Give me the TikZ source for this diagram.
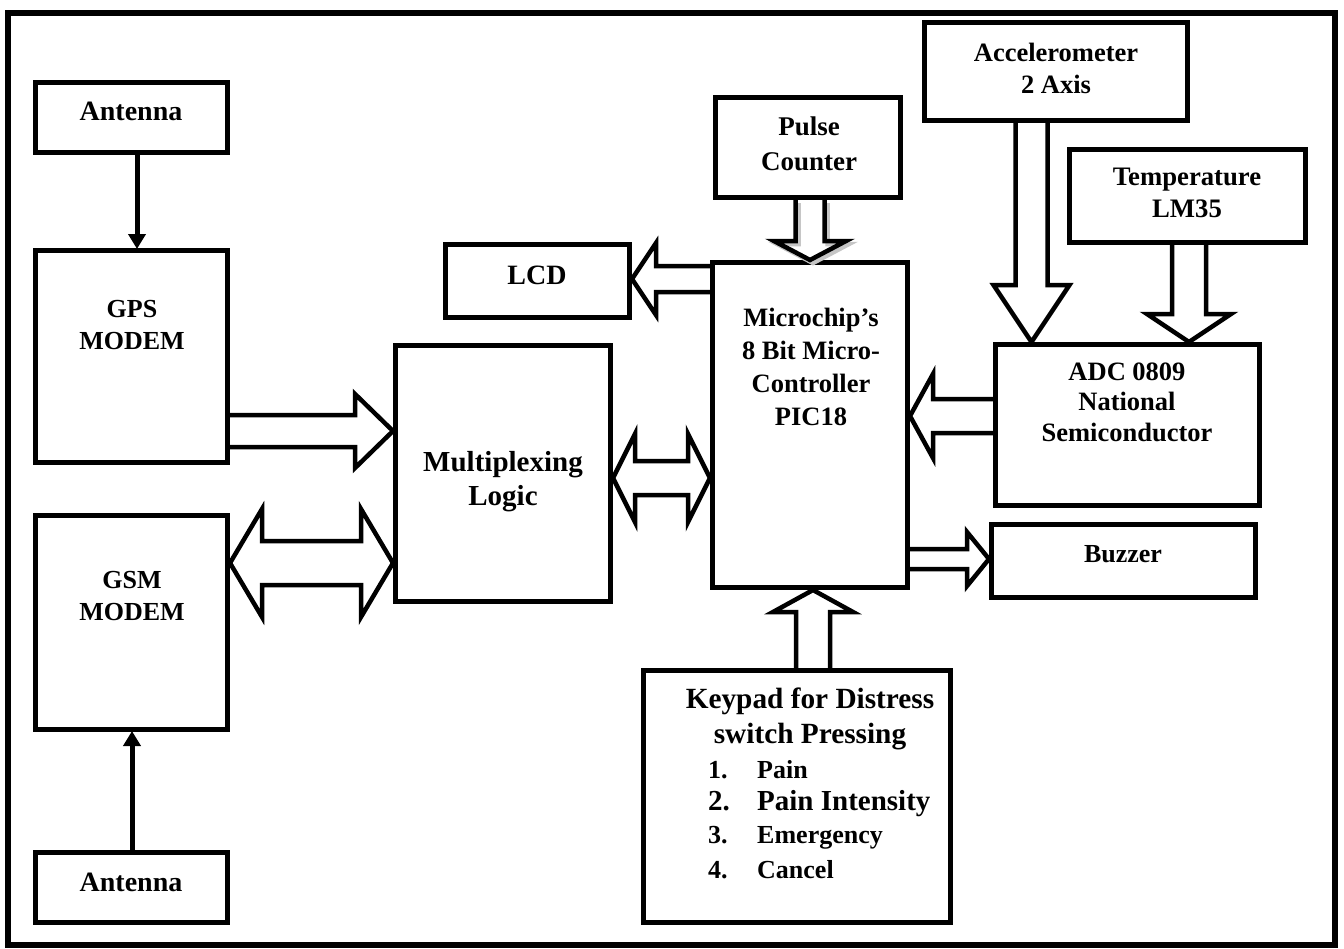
\documentclass[tikz,border=0pt]{standalone}
\usepackage{fontspec}
\setmainfont{Liberation Serif}
\usetikzlibrary{calc,arrows.meta}
% single block arrow: [opts]{start}{end}{shaft half}{head half}{head length}
\newcommand\sarrow[6][]{%
  \coordinate (bhB) at ($(#3)!#6!(#2)$);
  \draw[blk,#1] ($(#2)!#4!90:(#3)$) -- ($(bhB)!#4!-90:(#2)$) -- ($(bhB)!#5!-90:(#2)$)
    -- (#3) -- ($(bhB)!#5!90:(#2)$) -- ($(bhB)!#4!90:(#2)$) -- ($(#2)!#4!-90:(#3)$);
}
% double block arrow
\newcommand\darrow[6][]{%
  \coordinate (bhA) at ($(#2)!#6!(#3)$);
  \coordinate (bhB) at ($(#3)!#6!(#2)$);
  \draw[blk,#1] (#2) -- ($(bhA)!#5!90:(#3)$) -- ($(bhA)!#4!90:(#3)$)
    -- ($(bhB)!#4!-90:(#2)$) -- ($(bhB)!#5!-90:(#2)$) -- (#3)
    -- ($(bhB)!#5!90:(#2)$) -- ($(bhB)!#4!90:(#2)$)
    -- ($(bhA)!#4!-90:(#3)$) -- ($(bhA)!#5!-90:(#3)$) -- cycle;
}
\begin{document}
\begin{tikzpicture}[x=1pt,y=-1pt,
  box/.style 2 args={draw,line width=5pt,minimum width=#1,minimum height=#2,inner sep=0pt},
  txt/.style={font=\bfseries\fontsize{26}{32}\selectfont,align=center,inner sep=0pt},
  bigtxt/.style={font=\bfseries\fontsize{29}{34}\selectfont,align=center,inner sep=0pt},
  blk/.style={draw,line width=4.5pt,line join=miter},
  thinarrow/.style={line width=5pt,-{Triangle[length=15pt,width=17pt]},shorten >=-1pt}]
\useasboundingbox (0,0) rectangle (1344,948);
\draw[line width=5.5pt] (8,13) rectangle (1335,945);

% boxes
\node[box={192pt}{70pt}] (antT) at (131.5,117.5) {};
\node[box={192pt}{212pt}] (gps) at (131.5,356.5) {};
\node[box={192pt}{214pt}] (gsm) at (131.5,622.5) {};
\node[box={192pt}{70pt}] (antB) at (131.5,887.5) {};
\node[box={215pt}{256pt}] (mux) at (503,473.5) {};
\node[box={195pt}{325pt}] (mcu) at (810,425) {};
\node[box={184pt}{73pt}] (lcd) at (537.5,281) {};
\node[box={185pt}{100pt}] (pulse) at (808,147.5) {};
\node[box={263pt}{98pt}] (accel) at (1056,71) {};
\node[box={236pt}{93pt}] (temp) at (1187.5,196) {};
\node[box={264pt}{161pt}] (adc) at (1127.5,425) {};
\node[box={264pt}{73pt}] (buzzer) at (1123.5,561) {};
\node[box={307pt}{252pt}] (keypad) at (797,796.5) {};

% texts
\node[txt,font=\bfseries\fontsize{28}{33}\selectfont] (antTt) at (131,111) {Antenna};
\node[txt] (gpst) at (132,325) {GPS\\MODEM};
\node[txt] (gsmt) at (132,596) {GSM\\MODEM};
\node[txt,font=\bfseries\fontsize{28}{33}\selectfont] (antBt) at (131,882) {Antenna};
\node[bigtxt] (muxt) at (503,482) {Multiplexing\\Logic};
\node[txt,font=\bfseries\fontsize{26.5}{33}\selectfont] (mcut) at (811,367) {Microchip’s\\8 Bit Micro-\\Controller\\PIC18};
\node[txt,font=\bfseries\fontsize{28}{33}\selectfont] (lcdt) at (537,275) {LCD};
\node[txt,font=\bfseries\fontsize{27}{35}\selectfont] (pulset) at (809,144) {Pulse\\Counter};
\node[txt,font=\bfseries\fontsize{26.5}{32}\selectfont] (accelt) at (1056,68) {Accelerometer\\2 Axis};
\node[txt,font=\bfseries\fontsize{26.7}{32}\selectfont] (tempt) at (1187,193) {Temperature\\LM35};
\node[txt,font=\bfseries\fontsize{26.5}{30.5}\selectfont] (adct) at (1127,402) {ADC 0809\\National\\Semiconductor};
\node[txt,font=\bfseries\fontsize{26}{30}\selectfont] (buzzert) at (1123,554) {Buzzer};
\node[bigtxt,font=\bfseries\fontsize{29.3}{34}\selectfont,anchor=base] (kp1) at (810,708) {Keypad for Distress};
\node[bigtxt,font=\bfseries\fontsize{29.3}{34}\selectfont,anchor=base] (kp2) at (810,743) {switch Pressing};
\node[txt,anchor=base west] (n1) at (708,778) {1.};
\node[txt,anchor=base west] (i1) at (757,778) {Pain};
\node[bigtxt,anchor=base west] (n2) at (708,810) {2.};
\node[bigtxt,anchor=base west] (i2) at (757,810) {Pain Intensity};
\node[txt,anchor=base west] (n3) at (708,843) {3.};
\node[txt,anchor=base west] (i3) at (757,843) {Emergency};
\node[txt,anchor=base west] (n4) at (708,878) {4.};
\node[txt,anchor=base west] (i4) at (757,878) {Cancel};

% thin arrows
\draw[thinarrow] ([xshift=5.5pt]antT.south) -- ([xshift=5.5pt]gps.north);
\draw[thinarrow] ([xshift=0.5pt]antB.north) -- ([xshift=0.5pt]gsm.south);

% level helpers
\coordinate (y1) at (0,431);
\coordinate (y2) at (0,563);
\coordinate (y3) at (0,478);
\coordinate (y4) at (0,279);
\coordinate (y8) at (0,416);
\coordinate (y9) at (0,559);
\coordinate (x5) at (810,0);
\coordinate (x6) at (1031.5,0);
\coordinate (x7) at (1189,0);
\coordinate (x10) at (813,0);

\coordinate (a1s) at (gps.east |- y1);   \coordinate (a1e) at (mux.west |- y1);
\coordinate (a2s) at (gsm.east |- y2);   \coordinate (a2e) at (mux.west |- y2);
\coordinate (a3s) at (mux.east |- y3);   \coordinate (a3e) at (mcu.west |- y3);
\coordinate (a4s) at (mcu.west |- y4);   \coordinate (a4e) at (lcd.east |- y4);
\coordinate (a5s) at (pulse.south -| x5); \coordinate (a5e) at (mcu.north -| x5);
\coordinate (a6s) at (accel.south -| x6); \coordinate (a6e) at (adc.north -| x6);
\coordinate (a7s) at (temp.south -| x7);  \coordinate (a7e) at (adc.north -| x7);
\coordinate (a8s) at (adc.west |- y8);   \coordinate (a8e) at (mcu.east |- y8);
\coordinate (a9s) at (mcu.east |- y9);   \coordinate (a9e) at (buzzer.west |- y9);
\coordinate (a10s) at (keypad.north -| x10); \coordinate (a10e) at (mcu.south -| x10);

% block arrows
\sarrow{a1s}{a1e}{16pt}{37pt}{38pt}
\darrow{a2s}{a2e}{22pt}{54pt}{32pt}
\darrow{a3s}{a3e}{17pt}{44pt}{22pt}
\sarrow{a4s}{a4e}{13pt}{36pt}{24pt}
\sarrow[gray!45,transform canvas={shift={(3pt,-3pt)}}]{a5s}{a5e}{14.5pt}{36pt}{19pt}
\sarrow{a5s}{a5e}{14.5pt}{36pt}{19pt}
\sarrow{a6s}{a6e}{16pt}{38pt}{57pt}
\sarrow{a7s}{a7e}{17pt}{42pt}{28pt}
\sarrow{a8s}{a8e}{17pt}{42pt}{23pt}
\sarrow{a9s}{a9e}{10pt}{27pt}{22pt}
\sarrow{a10s}{a10e}{17pt}{40pt}{22pt}
\end{tikzpicture}
\end{document}
